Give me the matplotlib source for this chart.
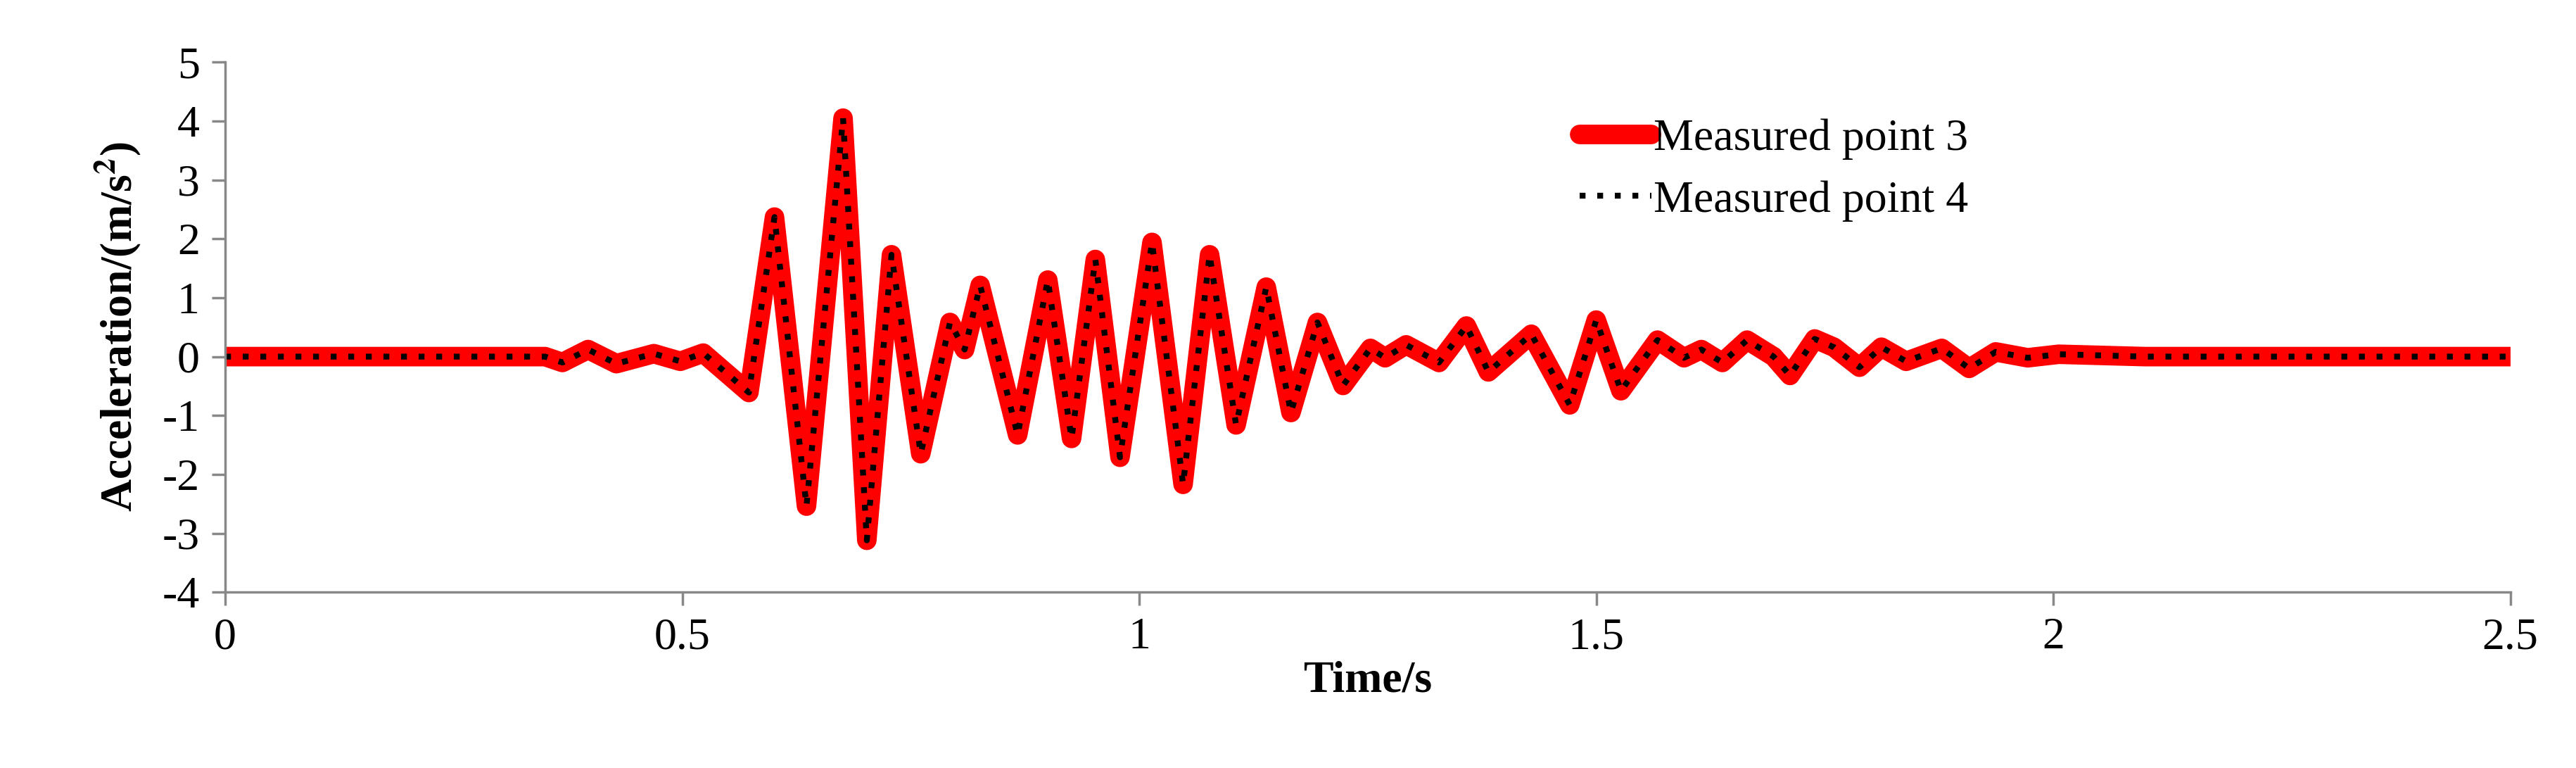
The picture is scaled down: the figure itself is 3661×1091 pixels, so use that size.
import matplotlib
matplotlib.use("Agg")
import matplotlib.pyplot as plt

time = [0.0, 0.1, 0.2, 0.3, 0.35, 0.369, 0.397, 0.428, 0.469, 0.498, 0.523, 0.573, 0.601, 0.636, 0.676,
        0.702, 0.729, 0.761, 0.793, 0.809, 0.826, 0.867, 0.900, 0.926, 0.952, 0.979, 1.014,
        1.048, 1.077, 1.106, 1.139, 1.166, 1.195, 1.223, 1.253, 1.269, 1.292, 1.328, 1.358,
        1.382, 1.429, 1.471, 1.500, 1.527, 1.567, 1.596, 1.615, 1.638, 1.665, 1.694, 1.712,
        1.739, 1.760, 1.788, 1.812, 1.839, 1.878, 1.908, 1.937, 1.972, 2.006, 2.1, 2.2, 2.3, 2.4, 2.5]
accel = [0.0, 0.0, 0.0, 0.0, 0.0, -0.1, 0.12, -0.12, 0.05, -0.08, 0.06, -0.61, 2.37, -2.54, 4.05,
         -3.12, 1.73, -1.65, 0.58, 0.12, 1.21, -1.33, 1.30, -1.39, 1.65, -1.71, 1.94,
         -2.17, 1.73, -1.16, 1.18, -0.95, 0.58, -0.49, 0.14, -0.02, 0.2, -0.1, 0.52,
         -0.26, 0.38, -0.82, 0.62, -0.58, 0.28, -0.02, 0.12, -0.1, 0.28, 0.0, -0.32,
         0.3, 0.16, -0.18, 0.16, -0.08, 0.14, -0.2, 0.08, -0.02, 0.04, 0.0, 0.0, 0.0, 0.0, 0.0]
series_names = ["Measured point 3", "Measured point 4"]
xticks = [0, 0.5, 1, 1.5, 2, 2.5]
yticks = list(range(-4, 6))

plt.rcParams['font.family'] = ['Liberation Serif', 'DejaVu Serif']
plt.rcParams['axes.unicode_minus'] = False
plt.rcParams['mathtext.fontset'] = 'stix'
fig = plt.figure(figsize=(36.61, 10.91), dpi=100)
ax = fig.add_axes([0.0874, 0.229, 0.8871, 0.690])
ax.plot(time, accel, color='red', lw=20, solid_joinstyle='round', solid_capstyle='round', label=series_names[0])
ax.plot(time, accel, color='black', lw=6, linestyle=(0, (1, 2)), label=series_names[1])
ax.set_xlim(0, 2.5)
ax.set_ylim(-4, 5)
ax.set_xticks(xticks)
ax.set_xticklabels([f"{t:g}" for t in xticks])
ax.set_yticks(yticks)
for s in ['top', 'right']:
    ax.spines[s].set_visible(False)
for s in ['left', 'bottom']:
    ax.spines[s].set_color('#888888')
    ax.spines[s].set_linewidth(2.5)
ax.tick_params(direction='out', length=14, width=2.5, color='#888888', labelsize=46, pad=12)
ax.set_xlabel("Time/s", fontsize=46, fontweight='bold', labelpad=2)
ax.set_ylabel(r"Acceleration/(m/s$^\mathbf{2}$)", fontsize=46, fontweight='bold', labelpad=20)
leg = ax.legend(loc='upper left', bbox_to_anchor=(0.575, 0.97), frameon=False, fontsize=46,
                handlelength=1.6, handletextpad=0.05, labelspacing=0.45)
fig.savefig("out.png", dpi=100)
